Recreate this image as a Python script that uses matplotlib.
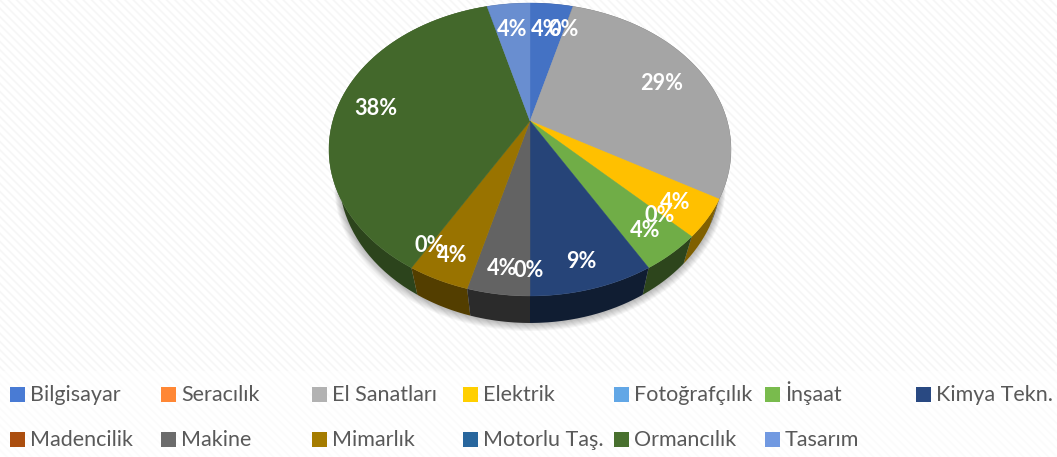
#!/usr/bin/env python3
"""3B görünümlü pasta grafik: meslek alanlarına göre dağılım."""

import numpy as np
import matplotlib
matplotlib.use("Agg")
import matplotlib.pyplot as plt
from matplotlib.patches import Polygon, Rectangle

# ===== Veri =====
CATEGORIES = ["Bilgisayar", "Seracılık", "El Sanatları", "Elektrik", "Fotoğrafçılık",
              "İnşaat", "Kimya Tekn.", "Madencilik", "Makine", "Mimarlık",
              "Motorlu Taş.", "Ormancılık", "Tasarım"]
COUNTS = [1, 0, 7, 1, 0, 1, 2, 0, 1, 1, 0, 9, 1]
PCT_LABELS = ["4%", "0%", "29%", "4%", "0%", "4%", "9%", "0%", "4%", "4%", "0%", "38%", "4%"]
COLORS = ["#4472C4", "#ED7D31", "#A5A5A5", "#FFC000", "#5B9BD5", "#70AD47", "#264478",
          "#9E480E", "#636363", "#997300", "#255E91", "#43682B", "#698ED0"]

# perspektif parametreleri (piksel)
CX, APEX_Y = 530, 121
KX, KY, PERSP = 197.2, -117.4, 0.1945
DEPTH = 27
WALL_SCALE = 0.95
LABEL_R = [0.76, 0.78, 0.77, 0.84, 0.83, 0.84, 0.855, 0.87, 0.87, 0.865, 0.86, 0.80, 0.76]
WALL_SHADE = [0.45, 0.45, 0.45, 0.50, 0.45, 0.40, 0.42, 0.45, 0.43, 0.54, 0.45, 0.65, 0.45]


def project(theta, r=1.0):
    """Birim daire noktasını (saat yönü, tepeden) ekran pikseline çevir"""
    y = r * np.cos(theta)
    w = 1 + PERSP * y
    return CX + KX * r * np.sin(theta) / w, (APEX_Y + KY * y) / w


def shade(color, f):
    return tuple(min(c * f, 1.0) for c in matplotlib.colors.to_rgb(color))


plt.rcParams["hatch.linewidth"] = 1.2
fig = plt.figure(figsize=(10.57, 4.57), dpi=100)
ax = fig.add_axes([0, 0, 1, 1])
ax.set_xlim(0, 1057)
ax.set_ylim(457, 0)
ax.axis("off")

# arka plan: çok açık çapraz desen, lejant bandı daha beyaz
ax.add_patch(Rectangle((0, 0), 1057, 457, fc="white", ec="#f6f6f6", hatch="\\\\\\\\", lw=0, zorder=0))
ax.add_patch(Rectangle((0, 371), 1057, 86, fc="white", ec="none", alpha=0.6, zorder=0.5))

counts = np.array(COUNTS, dtype=float)
edges = np.concatenate([[0], np.cumsum(counts)]) / counts.sum() * 2 * np.pi

# yumuşak gölge
t = np.linspace(0, 2 * np.pi, 360)
sx, sy = project(t)
for k in range(1, 9):
    ax.add_patch(Polygon(np.c_[CX + (sx - CX) * (WALL_SCALE + 0.003 * k), sy + DEPTH + k],
                         fc="black", ec="none", alpha=0.035, zorder=1))

# yan duvarlar
order = np.argsort(-np.cos((edges[:-1] + edges[1:]) / 2))
for i in order:
    if COUNTS[i] == 0:
        continue
    a = np.linspace(edges[i], edges[i + 1], 60)
    x, y = project(a)
    xb = CX + (x - CX) * WALL_SCALE
    yb = y + DEPTH
    pts = np.r_[np.c_[x, y], np.c_[xb, yb][::-1]]
    ax.add_patch(Polygon(pts, fc=shade(COLORS[i], WALL_SHADE[i]), ec="none", zorder=2))

# üst yüzey
for i in range(len(COUNTS)):
    if COUNTS[i] == 0:
        continue
    a = np.linspace(edges[i], edges[i + 1], 80)
    x, y = project(a)
    pts = np.r_[[[CX, APEX_Y]], np.c_[x, y]]
    ax.add_patch(Polygon(pts, fc=COLORS[i], ec=COLORS[i], lw=0.3, zorder=3))

# yüzde etiketleri
for i, lab in enumerate(PCT_LABELS):
    x, y = project((edges[i] + edges[i + 1]) / 2, LABEL_R[i])
    ax.text(x - 1, y + 1.5, lab, color="white", fontsize=15.6, fontweight="bold", family="Lato",
            ha="center", va="center", zorder=4)

# lejant
for i, name in enumerate(CATEGORIES):
    col = i % 7
    row = i // 7
    x0 = 10 + col * 151
    yc = 394.5 + row * 44.5
    ax.add_patch(Rectangle((x0, yc - 7.5), 15, 15, fc=shade(COLORS[i], 1.08), ec="none", zorder=3))
    ax.text(x0 + 20, yc + 6.5, name, color="#595959", fontsize=15.5, family="Lato",
            ha="left", va="baseline", zorder=3)

plt.savefig("out.png", dpi=100, facecolor="white")
